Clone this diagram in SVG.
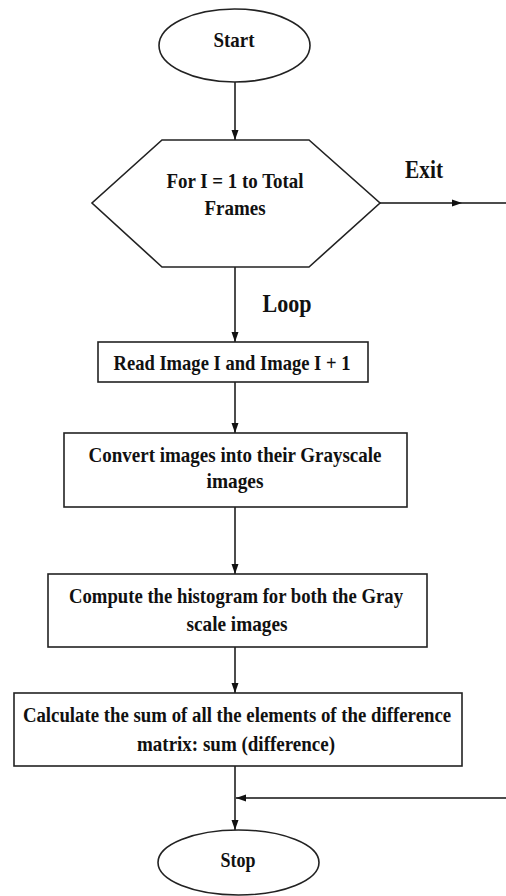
<svg xmlns="http://www.w3.org/2000/svg" width="506" height="896" viewBox="0 0 506 896">
<defs>
<marker id="ah" markerUnits="userSpaceOnUse" markerWidth="10" markerHeight="10" viewBox="0 0 10 10" refX="10" refY="5" orient="auto">
<path d="M0,1.5 L10,5 L0,8.5 Z" fill="#111"/>
</marker>
</defs>
<style>
.shape{fill:#fff;stroke:#222;stroke-width:1.6}
.t{font-family:"Liberation Serif","Times New Roman",serif;font-weight:bold;font-size:22px;fill:#111;text-anchor:middle}
.lbl{font-size:25px}
.c{fill:none;stroke:#111;stroke-width:1.5}
</style>
<rect width="506" height="896" fill="#fff"/>
<g id="connectors">
<path class="c" d="M235,82 L235,140" marker-end="url(#ah)"/>
<path class="c" d="M235,267 L235,342" marker-end="url(#ah)"/>
<path class="c" d="M235,382 L235,433" marker-end="url(#ah)"/>
<path class="c" d="M235,507 L235,574" marker-end="url(#ah)"/>
<path class="c" d="M235,647 L235,693" marker-end="url(#ah)"/>
<path class="c" d="M235,766 L235,830" marker-end="url(#ah)"/>
<path class="c" d="M380,203 L462,203 L506,203" marker-mid="url(#ah)"/>
<path class="c" d="M506,798 L236,798" marker-end="url(#ah)"/>
<text class="t lbl" x="424" y="178" textLength="38" lengthAdjust="spacingAndGlyphs">Exit</text>
<text class="t lbl" x="287" y="312" textLength="49" lengthAdjust="spacingAndGlyphs">Loop</text>
</g>
<g id="start">
<ellipse class="shape" cx="234.5" cy="45.5" rx="75.5" ry="36.5"/>
<text class="t" x="234" y="47" textLength="41" lengthAdjust="spacingAndGlyphs">Start</text>
</g>
<g id="loop">
<polygon class="shape" points="162,140 309,140 380,203 309,267 162,267 92,203"/>
<text class="t" x="235" y="188" textLength="137" lengthAdjust="spacingAndGlyphs">For I = 1 to Total</text>
<text class="t" x="235" y="215" textLength="61" lengthAdjust="spacingAndGlyphs">Frames</text>
</g>
<g id="read">
<rect class="shape" x="98" y="342" width="270" height="40"/>
<text class="t" x="232" y="370" textLength="237" lengthAdjust="spacingAndGlyphs">Read Image I and Image I + 1</text>
</g>
<g id="convert">
<rect class="shape" x="64" y="433" width="343" height="74"/>
<text class="t" x="235" y="462" textLength="293" lengthAdjust="spacingAndGlyphs">Convert images into their Grayscale</text>
<text class="t" x="235" y="488" textLength="57" lengthAdjust="spacingAndGlyphs">images</text>
</g>
<g id="compute">
<rect class="shape" x="48" y="574" width="379" height="73"/>
<text class="t" x="236" y="603" textLength="334" lengthAdjust="spacingAndGlyphs">Compute the histogram for both the Gray</text>
<text class="t" x="237" y="631" textLength="101" lengthAdjust="spacingAndGlyphs">scale images</text>
</g>
<g id="calc">
<rect class="shape" x="14" y="693" width="448" height="73"/>
<text class="t" transform="translate(237,722) scale(0.855,1)" x="0" y="0">Calculate the sum of all the elements of the difference</text>
<text class="t" x="236" y="751" textLength="198" lengthAdjust="spacingAndGlyphs">matrix: sum (difference)</text>
</g>
<g id="stop">
<ellipse class="shape" cx="238.5" cy="862.5" rx="80.5" ry="32.5"/>
<text class="t" x="238" y="867" textLength="35" lengthAdjust="spacingAndGlyphs">Stop</text>
</g>
</svg>
